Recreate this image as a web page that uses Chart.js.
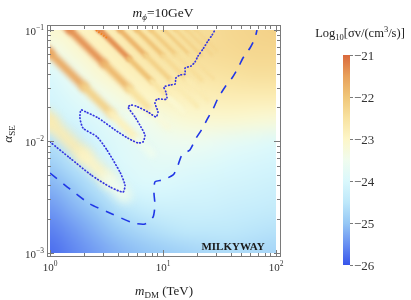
<!DOCTYPE html>
<html>
<head>
<meta charset="utf-8">
<script src="https://cdn.jsdelivr.net/npm/chart.js@4.4.1/dist/chart.umd.min.js"></script>
<style>
  html, body { margin: 0; padding: 0; background: #fff; }
</style>
</head>
<body>
<canvas id="c" width="411" height="300"></canvas>
<script>
// log10(sigma v), on a grid every 0.2 decade
// columns: log10(mDM/TeV) = 0 .. 2, rows: log10(alpha) = -1 (top) .. -3 (bottom)
const gridLogM = [0, 0.2, 0.4, 0.6, 0.8, 1.0, 1.2, 1.4, 1.6, 1.8, 2.0];
const gridLogA = [-1, -1.2, -1.4, -1.6, -1.8, -2.0, -2.2, -2.4, -2.6, -2.8, -3.0];
const fieldRows = [
  [-23.1, -23.0, -22.85, -22.75, -22.65, -22.55, -22.45, -22.4, -22.3, -22.25, -22.2],
  [-23.5, -23.2, -22.95, -22.8, -22.65, -22.55, -22.5, -22.4, -22.35, -22.3, -22.3],
  [-24.0, -23.6, -23.2, -22.95, -22.8, -22.7, -22.6, -22.55, -22.5, -22.45, -22.45],
  [-24.1, -23.9, -23.6, -23.3, -23.05, -22.9, -22.85, -22.8, -22.75, -22.75, -22.75],
  [-24.2, -24.1, -23.95, -23.7, -23.5, -23.3, -23.15, -23.1, -23.1, -23.15, -23.2],
  [-24.6, -24.4, -24.1, -23.9, -23.75, -23.6, -23.55, -23.6, -23.7, -23.8, -23.9],
  [-24.9, -24.6, -24.3, -24.0, -23.85, -23.8, -23.85, -23.9, -24.0, -24.05, -24.1],
  [-25.2, -24.95, -24.6, -24.2, -24.0, -24.0, -24.05, -24.1, -24.15, -24.2, -24.25],
  [-25.45, -25.2, -24.95, -24.6, -24.35, -24.25, -24.25, -24.25, -24.3, -24.35, -24.4],
  [-25.65, -25.45, -25.2, -24.95, -24.75, -24.6, -24.5, -24.5, -24.5, -24.55, -24.6],
  [-25.8, -25.6, -25.4, -25.2, -25.05, -24.95, -24.85, -24.75, -24.7, -24.75, -24.8]
];

// resonance stripes: points along each ridge (mDM in TeV, alpha) and the ridge value
const stripeM = [
  [0.85, 1.0, 2.0, 3.3, 4.6],
  [0.85, 1.0, 2.0, 3.5, 6.0, 8.0],
  [1.3, 1.5, 3.0, 5.0, 8.0, 11.0],
  [2.4, 2.77, 5.0, 8.0, 11.0, 15.0],
  [3.6, 4.16, 7.0, 12.0, 20.0],
  [5.1, 5.89, 10.0, 16.0, 25.0],
  [6.8, 7.83, 13.0, 22.0],
  [8.9, 10.3, 17.0, 28.0],
  [11.3, 13.0, 22.0],
  [14.1, 16.3, 27.0],
  [17.0, 19.6, 30.0]
];
const stripeA = [
  [0.0176, 0.0150, 0.0075, 0.00455, 0.00326],
  [0.0732, 0.0622, 0.0311, 0.0178, 0.0104, 0.00778],
  [0.1154, 0.100, 0.050, 0.030, 0.01875, 0.01364],
  [0.1154, 0.100, 0.0554, 0.0346, 0.0252, 0.0185],
  [0.1156, 0.100, 0.0594, 0.0347, 0.0208],
  [0.1155, 0.100, 0.0589, 0.0368, 0.0236],
  [0.1151, 0.100, 0.0602, 0.0356],
  [0.1157, 0.100, 0.0606, 0.0368],
  [0.1150, 0.100, 0.0591],
  [0.1156, 0.100, 0.0604],
  [0.1153, 0.100, 0.0653]
];
const stripePeak = [
  [-22.6, -22.6, -22.85, -23.05, -23.9],
  [-21.35, -21.35, -21.85, -22.5, -23.2, -23.9],
  [-21.15, -21.15, -21.55, -22.05, -22.9, -23.6],
  [-21.05, -21.05, -21.65, -22.25, -22.9, -23.3],
  [-21.55, -21.55, -21.95, -22.45, -23.0],
  [-21.75, -21.75, -22.15, -22.55, -22.9],
  [-21.9, -21.9, -22.25, -22.6],
  [-22.0, -22.0, -22.3, -22.6],
  [-22.1, -22.1, -22.4],
  [-22.15, -22.15, -22.4],
  [-22.2, -22.2, -22.4]
];

// dotted boundary
const dotM = [1.00, 1.50, 2.31, 3.40, 4.43, 4.61, 4.16, 3.19, 2.61, 1.96, 1.84, 1.88, 2.08, 2.66, 3.76, 4.90,
  6.01, 6.65, 6.93, 6.38, 5.65, 4.90, 5.21, 5.77, 7.36, 8.67, 9.03, 8.49, 8.85, 10.8, 10.6, 10.2, 11.5,
  12.8, 13.0, 14.1, 15.7, 15.7, 17.7, 19.2, 20.4, 22.6, 25.0, 27.2, 28.8];
const dotA = [0.00991, 0.00711, 0.00501, 0.00391, 0.00352, 0.00407, 0.00532, 0.00840, 0.0110, 0.0132, 0.0163,
  0.0192, 0.0184, 0.0163, 0.0127, 0.0107, 0.00970, 0.00991, 0.0114, 0.0135, 0.0166, 0.0204, 0.0212, 0.0208,
  0.0184, 0.0166, 0.0184, 0.0221, 0.0240, 0.0240, 0.0278, 0.0308, 0.0321, 0.0328, 0.0371, 0.0394, 0.0403,
  0.0456, 0.0475, 0.0517, 0.0584, 0.0676, 0.0797, 0.0902, 0.100];

// dashed boundary
const dashM = [1.00, 1.50, 2.26, 3.54, 5.43, 6.93, 8.16, 8.49, 8.32, 8.49, 10.0, 12.3, 13.3, 14.7, 17.3, 19.6,
  22.1, 25.0, 27.7, 30.7, 35.4, 40.8, 46.1, 51.0, 58.9, 65.2, 67.9];
const dashA = [0.00521, 0.00375, 0.00275, 0.00224, 0.00186, 0.00182, 0.00210, 0.00269, 0.00345, 0.00434,
  0.00452, 0.00501, 0.00578, 0.00757, 0.00840, 0.0107, 0.0129, 0.0163, 0.0195, 0.0245, 0.0308, 0.0371,
  0.0456, 0.0561, 0.0690, 0.0848, 0.100];

// saturated (> -21) spot at the top edge
const hotM = [2.55, 3.19];
const hotA = [0.100, 0.0848];

const majorM = [1, 10, 100];
const minorM = [2, 3, 4, 5, 6, 7, 8, 9, 20, 30, 40, 50, 60, 70, 80, 90];
const majorA = [0.001, 0.01, 0.1];
const minorA = [0.002, 0.003, 0.004, 0.005, 0.006, 0.007, 0.008, 0.009, 0.02, 0.03, 0.04, 0.05, 0.06, 0.07, 0.08, 0.09];
const barTicks = [-21, -22, -23, -24, -25, -26];

// ---- styles ----
const stripeWidth = [14, 8, 7, 5.5, 5, 4.5, 4, 3.5, 3.5, 3, 3];
const stripeBlur = [5, 2.8, 2.2, 1.8, 1.6, 1.5, 1.4, 1.3, 1.3, 1.3, 1.3];
const cmapVals = [-26, -25.5, -25, -24.5, -24, -23.5, -23, -22.5, -22, -21.5, -21];
const cmapRGB = [[55, 85, 235], [105, 145, 242], [150, 200, 245], [190, 232, 250], [218, 248, 252],
  [240, 252, 238], [253, 246, 200], [248, 226, 160], [240, 198, 120], [232, 160, 90], [218, 105, 60]];
const SERIF = '"Liberation Serif", "Times New Roman", serif';
const bar = { x0: 343, x1: 350, top: 55, bottom: 265 };

function colorOf(v) {
  if (v <= cmapVals[0]) return cmapRGB[0];
  const n = cmapVals.length;
  if (v >= cmapVals[n - 1]) return cmapRGB[n - 1];
  let i = 0;
  while (v > cmapVals[i + 1]) i++;
  const t = (v - cmapVals[i]) / (cmapVals[i + 1] - cmapVals[i]);
  return cmapRGB[i].map((c, k) => Math.round(c + (cmapRGB[i + 1][k] - c) * t));
}
const rgb = c => `rgb(${c[0]},${c[1]},${c[2]})`;

// tiny image, one pixel per grid node; it gets stretched onto the plot
const fieldCanvas = document.createElement('canvas');
fieldCanvas.width = gridLogM.length;
fieldCanvas.height = gridLogA.length;
(function () {
  const fctx = fieldCanvas.getContext('2d');
  const img = fctx.createImageData(fieldCanvas.width, fieldCanvas.height);
  fieldRows.forEach((row, r) => row.forEach((v, c) => {
    const col = colorOf(v), o = (r * fieldCanvas.width + c) * 4;
    img.data[o] = col[0]; img.data[o + 1] = col[1]; img.data[o + 2] = col[2]; img.data[o + 3] = 255;
  }));
  fctx.putImageData(img, 0, 0);
})();

function font(p) {
  return `${p.style || 'normal'} ${p.weight || 'normal'} ${p.size}px ${SERIF}`;
}
function rich(ctx, parts, x, y, align) {
  let w = 0;
  parts.forEach(p => { ctx.font = font(p); p.w = ctx.measureText(p.t).width; w += p.w; });
  let cx = align === 'center' ? x - w / 2 : align === 'right' ? x - w : x;
  parts.forEach(p => { ctx.font = font(p); ctx.fillText(p.t, cx, y + (p.dy || 0)); cx += p.w; });
}
const sup = e => String(e).replace('-', '\u2212');

function mapRect(chart) {
  const { x, y } = chart.scales;
  const x0 = x.getPixelForValue(Math.pow(10, gridLogM[0]));
  const x1 = x.getPixelForValue(Math.pow(10, gridLogM[gridLogM.length - 1]));
  const y0 = y.getPixelForValue(Math.pow(10, gridLogA[0]));
  const y1 = y.getPixelForValue(Math.pow(10, gridLogA[gridLogA.length - 1]));
  return { x0, x1, y0, y1 };
}

const mapPlugin = {
  id: 'map',
  beforeDatasetsDraw(chart) {
    const ctx = chart.ctx;
    const r = mapRect(chart);
    const nC = gridLogM.length, nR = gridLogA.length;
    const cw = (r.x1 - r.x0) / (nC - 1), ch = (r.y1 - r.y0) / (nR - 1);
    ctx.save();
    ctx.beginPath();
    ctx.rect(r.x0, r.y0, r.x1 - r.x0, r.y1 - r.y0);
    ctx.clip();
    ctx.imageSmoothingEnabled = true;
    ctx.imageSmoothingQuality = 'high';
    ctx.drawImage(fieldCanvas, r.x0 - cw / 2, r.y0 - ch / 2, cw * nC, ch * nR);
    ctx.restore();
  },
  beforeDatasetDraw(chart, args) {
    const ctx = chart.ctx;
    const ds = chart.data.datasets[args.index];
    const r = mapRect(chart);
    ctx.save();
    ctx.beginPath();
    ctx.rect(r.x0, r.y0, r.x1 - r.x0, r.y1 - r.y0);
    ctx.clip();
    if (ds.blur) ctx.filter = `blur(${ds.blur}px)`;
  },
  afterDatasetDraw(chart) {
    chart.ctx.restore();
  },
  afterDraw(chart) {
    const { ctx, chartArea: a, scales: { x, y } } = chart;
    ctx.save();
    // frame
    ctx.strokeStyle = '#7a7a7a';
    ctx.lineWidth = 1;
    ctx.strokeRect(a.left - 0.5, a.top - 0.5, a.right - a.left + 1, a.bottom - a.top + 1);
    const snap = v => Math.round(v - 0.5) + 0.5;
    ctx.beginPath();
    const tickX = (vals, len) => vals.forEach(v => {
      const px = snap(x.getPixelForValue(v));
      ctx.moveTo(px, a.bottom); ctx.lineTo(px, a.bottom - len);
      ctx.moveTo(px, a.top); ctx.lineTo(px, a.top + len);
    });
    const tickY = (vals, len) => vals.forEach(v => {
      const py = snap(y.getPixelForValue(v));
      ctx.moveTo(a.left, py); ctx.lineTo(a.left + len, py);
      ctx.moveTo(a.right, py); ctx.lineTo(a.right - len, py);
    });
    tickX(majorM, 6); tickX(minorM, 3);
    tickY(majorA, 6); tickY(minorA, 3);
    ctx.stroke();

    // tick labels
    ctx.fillStyle = '#333';
    ctx.textBaseline = 'alphabetic';
    majorM.forEach(v => {
      const e = Math.round(Math.log10(v));
      rich(ctx, [{ t: '10', size: 11 }, { t: sup(e), size: 7.5, dy: -5 }], x.getPixelForValue(v), 271, 'center');
    });
    majorA.forEach(v => {
      const e = Math.round(Math.log10(v));
      rich(ctx, [{ t: '10', size: 11 }, { t: sup(e), size: 7.5, dy: -5 }], 44, y.getPixelForValue(v) + 4.5, 'right');
    });

    // titles
    ctx.fillStyle = '#222';
    rich(ctx, [{ t: 'm', size: 13.5, style: 'italic' }, { t: '\u03d5', size: 9, style: 'italic', dy: 3 },
      { t: '=10GeV', size: 13.5 }], 163, 17, 'center');
    rich(ctx, [{ t: 'm', size: 13, style: 'italic' }, { t: 'DM', size: 9, dy: 3 }, { t: ' (TeV)', size: 13 }],
      164, 295, 'center');
    ctx.save();
    ctx.translate(12, 134);
    ctx.rotate(-Math.PI / 2);
    rich(ctx, [{ t: '\u03b1', size: 13, style: 'italic' }, { t: 'SE', size: 9, dy: 3 }], 0, 0, 'center');
    ctx.restore();

    // label inside the plot
    ctx.fillStyle = '#1a1a1a';
    rich(ctx, [{ t: 'MILKYWAY', size: 11, weight: 'bold' }], 233, 250, 'center');

    // colour bar
    const span = barTicks[0] - barTicks[barTicks.length - 1];
    const vy = v => bar.bottom - (v - barTicks[barTicks.length - 1]) / span * (bar.bottom - bar.top);
    const g = ctx.createLinearGradient(0, bar.bottom, 0, bar.top);
    cmapVals.forEach((v, i) => g.addColorStop((v - cmapVals[0]) / (cmapVals[cmapVals.length - 1] - cmapVals[0]), rgb(cmapRGB[i])));
    ctx.fillStyle = g;
    ctx.fillRect(bar.x0, vy(barTicks[0]), bar.x1 - bar.x0, vy(barTicks[barTicks.length - 1]) - vy(barTicks[0]));
    ctx.strokeStyle = '#7a7a7a';
    ctx.beginPath();
    barTicks.forEach(v => {
      const py = snap(vy(v));
      ctx.moveTo(bar.x1, py); ctx.lineTo(bar.x1 + 3, py);
    });
    ctx.stroke();
    ctx.fillStyle = '#333';
    barTicks.forEach(v => rich(ctx, [{ t: sup(v), size: 13 }], bar.x1 + 4, vy(v) + 4.5, 'left'));
    ctx.fillStyle = '#222';
    rich(ctx, [{ t: 'Log', size: 12.5 }, { t: '10', size: 8.5, dy: 3 }, { t: '[\u03c3v/(cm', size: 12.5 },
      { t: '3', size: 8.5, dy: -5 }, { t: '/s)]', size: 12.5 }], 360, 37, 'center');
    ctx.restore();
  }
};

const pts = (ms, as) => ms.map((m, i) => ({ x: m, y: as[i] }));

// Chart.js paints higher "order" first, so the stripes go underneath the boundaries
const datasets = [];
stripeM.forEach((ms, k) => {
  datasets.push({
    data: pts(ms, stripeA[k]),
    order: 10,
    showLine: true,
    pointRadius: 0,
    borderWidth: stripeWidth[k],
    blur: stripeBlur[k],
    borderCapStyle: 'round',
    borderJoinStyle: 'round',
    borderColor: rgb(colorOf(stripePeak[k][0])),
    segment: {
      borderColor: c => rgb(colorOf((stripePeak[k][c.p0DataIndex] + stripePeak[k][c.p1DataIndex]) / 2))
    }
  });
});
datasets.push({
  data: pts(hotM, hotA), order: 2, showLine: true, pointRadius: 0,
  borderColor: '#f38220', borderWidth: 2, borderDash: [1.5, 1.5]
});
datasets.push({
  data: pts(dotM, dotA), order: 0, showLine: true, pointRadius: 0, tension: 0.2,
  borderColor: '#3434e0', borderWidth: 1.7, borderDash: [0.6, 2.6], borderCapStyle: 'round'
});
datasets.push({
  data: pts(dashM, dashA), order: 0, showLine: true, pointRadius: 0, tension: 0.2,
  borderColor: '#2036e6', borderWidth: 1.6, borderDash: [9, 8]
});

new Chart(document.getElementById('c'), {
  type: 'scatter',
  data: { datasets },
  options: {
    responsive: false,
    devicePixelRatio: 1,
    animation: false,
    layout: { padding: { left: 48, right: 131, top: 26, bottom: 44 } },
    plugins: { legend: { display: false }, tooltip: { enabled: false } },
    scales: {
      x: { type: 'logarithmic', display: false, min: Math.pow(10, -2 / 113), max: Math.pow(10, 2 + 4 / 113) },
      y: { type: 'logarithmic', display: false, min: Math.pow(10, -3 - 3 / 111.5), max: Math.pow(10, -1 + 4 / 111.5) }
    }
  },
  plugins: [mapPlugin]
});
</script>
</body>
</html>
